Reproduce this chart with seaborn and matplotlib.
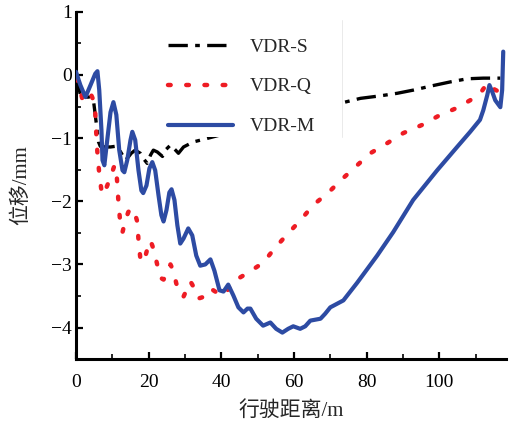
import numpy as np
import pandas as pd
import matplotlib
matplotlib.use("Agg")
import matplotlib.pyplot as plt
from matplotlib.patches import Rectangle
from matplotlib.ticker import MultipleLocator
import seaborn as sns

# Displacement along the travel distance for the three variants
dist_s = [0, 0.7, 1.2, 2.6, 4.0, 4.8, 5.3, 5.9, 6.2, 6.7, 8.1, 9.5, 10.8, 11.7, 12.8,
          13.6, 14.4, 15.2, 16.3, 17.7, 18.5, 19.6, 20.5, 21.3, 22.4, 23.8, 24.6, 26.0,
          27.4, 28.2, 29.6, 32.3, 35.1, 73.3, 78.3, 83.8, 88.4, 92.8, 98.1, 103.0,
          107.7, 112.1, 116.8]
disp_s = [0, -0.16, -0.32, -0.35, -0.35, -0.40, -0.63, -0.92, -1.06, -1.13, -1.14,
          -1.14, -1.13, -1.16, -1.27, -1.35, -1.30, -1.24, -1.19, -1.24, -1.32, -1.40,
          -1.27, -1.19, -1.22, -1.29, -1.19, -1.11, -1.19, -1.24, -1.14, -1.06, -1.02,
          -0.44, -0.37, -0.33, -0.29, -0.24, -0.17, -0.11, -0.06, -0.05, -0.05]

dist_q = [0, 0.9, 1.8, 2.9, 4.0, 4.8, 5.3, 5.6, 5.9, 6.4, 7.0, 7.5, 8.4, 9.5, 10.6,
          11.1, 11.4, 11.7, 12.2, 12.8, 13.6, 14.4, 15.2, 16.1, 16.9, 17.2, 17.7, 18.3,
          19.1, 19.9, 20.5, 21.3, 22.1, 23.2, 24.1, 24.9, 26.0, 26.8, 27.6, 28.7, 29.6,
          30.7, 31.5, 32.6, 33.7, 34.8, 35.9, 37.0, 38.6, 40.3, 41.7, 43.3, 47.4, 51.6,
          54.6, 58.2, 61.8, 65.3, 69.5, 73.6, 77.4, 81.0, 85.1, 90.1, 95.3, 99.7, 104.9,
          109.1, 111.3, 113.2, 114.6, 115.9, 116.8]
disp_q = [-0.05, -0.16, -0.40, -0.33, -0.29, -0.40, -0.60, -0.95, -1.24, -1.56, -1.83,
          -1.90, -1.78, -1.62, -1.43, -1.51, -1.75, -2.03, -2.35, -2.49, -2.30, -2.17,
          -2.11, -2.17, -2.33, -2.62, -2.90, -2.97, -2.87, -2.70, -2.62, -2.75, -2.94,
          -3.21, -3.24, -3.16, -3.00, -3.10, -3.30, -3.48, -3.51, -3.37, -3.27, -3.38,
          -3.54, -3.52, -3.44, -3.38, -3.44, -3.49, -3.41, -3.27, -3.13, -2.97, -2.75,
          -2.52, -2.30, -2.06, -1.86, -1.63, -1.43, -1.24, -1.10, -0.92, -0.79, -0.65,
          -0.52, -0.38, -0.29, -0.13, -0.21, -0.25, -0.32]

dist_m = [0, 1.2, 2.6, 4.0, 5.3, 5.9, 6.4, 7.0, 7.3, 7.8, 8.6, 9.5, 10.3, 11.1, 11.9,
          12.8, 13.3, 14.1, 15.0, 15.5, 16.3, 17.2, 18.0, 18.5, 19.4, 20.2, 21.0, 21.8,
          22.7, 23.5, 24.1, 24.9, 25.7, 26.3, 27.1, 27.9, 28.7, 29.6, 30.9, 32.0, 33.1,
          34.2, 35.6, 37.0, 38.1, 39.5, 40.6, 41.9, 43.3, 44.7, 46.1, 47.2, 48.0, 49.6,
          51.5, 53.5, 55.1, 56.8, 58.4, 59.8, 61.7, 63.1, 64.5, 67.3, 68.6, 70.0, 73.6,
          77.4, 82.9, 87.3, 92.8, 99.4, 104.9, 108.5, 111.2, 112.1, 113.2, 113.8, 114.6,
          115.4, 116.8, 117.3, 117.6]
disp_m = [0.05, -0.16, -0.35, -0.16, 0.02, 0.06, -0.24, -0.87, -1.35, -1.43, -1.03,
          -0.59, -0.43, -0.63, -1.19, -1.51, -1.54, -1.35, -1.03, -0.90, -1.03, -1.51,
          -1.83, -1.87, -1.75, -1.48, -1.38, -1.51, -1.90, -2.22, -2.32, -2.14, -1.86,
          -1.81, -1.98, -2.38, -2.67, -2.59, -2.43, -2.54, -2.86, -3.02, -3.00, -2.92,
          -3.10, -3.41, -3.43, -3.32, -3.49, -3.68, -3.76, -3.70, -3.70, -3.86, -3.97,
          -3.92, -4.02, -4.08, -4.02, -3.98, -4.02, -3.98, -3.89, -3.86, -3.78, -3.68,
          -3.57, -3.29, -2.86, -2.49, -1.98, -1.51, -1.14, -0.90, -0.71, -0.56, -0.32,
          -0.16, -0.27, -0.40, -0.51, -0.24, 0.37]

series_names = ["VDR-S", "VDR-Q", "VDR-M"]
x_ticks = [0, 20, 40, 60, 80, 100]
y_ticks = [-4, -3, -2, -1, 0, 1]

sns.set_theme(style="ticks")
plt.rcParams["font.family"] = ["Liberation Serif", "Noto Sans CJK SC"]
plt.rcParams["axes.unicode_minus"] = True

fig = plt.figure(figsize=(5.17, 4.23), dpi=100)
ax = fig.add_axes([0.147, 0.151, 0.832, 0.821])

df_s = pd.DataFrame({"x": dist_s, "y": disp_s})
df_q = pd.DataFrame({"x": dist_q, "y": disp_q})
df_m = pd.DataFrame({"x": dist_m, "y": disp_m})

sns.lineplot(data=df_s, x="x", y="y", ax=ax, sort=False, estimator=None,
             color="black", lw=2.4, linestyle=(0, (5.8, 2.2, 1.4, 2.2)),
             label=series_names[0], zorder=2)
sns.lineplot(data=df_q, x="x", y="y", ax=ax, sort=False, estimator=None,
             color="#ee1c24", lw=3.2, linestyle=(0, (0.6, 3.5)),
             dash_capstyle="round", label=series_names[1], zorder=3)
sns.lineplot(data=df_m, x="x", y="y", ax=ax, sort=False, estimator=None,
             color="#2d4ba3", lw=3.0, label=series_names[2], zorder=4)

# white legend panel sitting over the curves
panel = Rectangle((0.19, 0.64), 0.428, 0.337, transform=ax.transAxes,
                  facecolor="white", edgecolor="none", zorder=5)
ax.add_patch(panel)
ax.plot([0.618, 0.618], [0.64, 0.977], transform=ax.transAxes,
        color="#e6e6e6", lw=0.6, zorder=6)

handles, labels = ax.get_legend_handles_labels()
leg = ax.legend(handles, labels, loc="upper left", bbox_to_anchor=(0.215, 0.925),
                frameon=False, fontsize=14, handlelength=3.3, handletextpad=0.9,
                labelspacing=1.15, borderpad=0, borderaxespad=0)
leg.set_zorder(7)

ax.set_xlim(0, 118.4)
ax.set_ylim(-4.5, 1)
ax.set_xticks(x_ticks)
ax.set_yticks(y_ticks)
ax.xaxis.set_minor_locator(MultipleLocator(10))
ax.yaxis.set_minor_locator(MultipleLocator(0.5))
ax.tick_params(axis="both", which="major", direction="in", length=5, width=1.6,
               labelsize=14, colors="black")
ax.tick_params(axis="both", which="minor", direction="in", length=3.5, width=1.4)
ax.tick_params(axis="x", which="major", pad=11)
ax.tick_params(axis="y", which="major", pad=3)

for side in ["top", "right"]:
    ax.spines[side].set_visible(False)
for side in ["left", "bottom"]:
    ax.spines[side].set_linewidth(2.2)
    ax.spines[side].set_color("black")

ax.set_xlabel("行驶距离/m", fontsize=15, labelpad=7)
ax.set_ylabel("位移/mm", fontsize=15, labelpad=14)
ax.set_facecolor("white")
fig.patch.set_facecolor("white")

fig.savefig("out.png", dpi=100)
